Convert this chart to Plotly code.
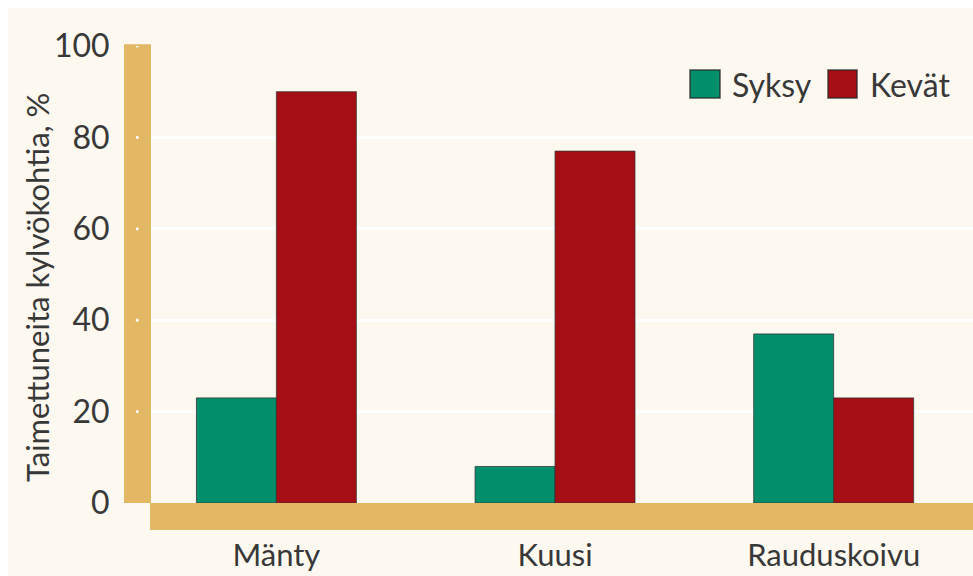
import plotly.graph_objects as go

# data
categories = ["Mänty", "Kuusi", "Rauduskoivu"]
series_names = ["Syksy", "Kevät"]
syksy = [23, 8, 37]
kevat = [90, 77, 23]
y_ticks = [0, 20, 40, 60, 80, 100]

GREEN = "#008e6b"
RED = "#a60e16"
TAN = "#e2b864"
BG = "#fdf8f0"
TEXT = "#383838"
FONT = "Lato, 'Open Sans', sans-serif"
OUTLINE = dict(color="rgba(50,50,50,0.75)", width=1)

fig = go.Figure()
fig.add_trace(go.Bar(x=categories, y=syksy, name=series_names[0], marker=dict(color=GREEN, line=OUTLINE)))
fig.add_trace(go.Bar(x=categories, y=kevat, name=series_names[1], marker=dict(color=RED, line=OUTLINE)))

shapes = [
    # thick tan axis bars
    dict(type="rect", xref="paper", yref="paper", x0=-0.0328, x1=0.0, y0=0.0, y1=1.004,
         fillcolor=TAN, line=dict(width=0), layer="above"),
    dict(type="rect", xref="paper", yref="paper", x0=-0.0012, x1=1.0, y0=-0.059, y1=0.0,
         fillcolor=TAN, line=dict(width=0), layer="above"),
    # legend swatches
    dict(type="rect", xref="paper", yref="paper", x0=0.6557, x1=0.6922, y0=0.8862, y1=0.9475,
         fillcolor=GREEN, line=dict(color="rgba(40,40,40,0.8)", width=1.5)),
    dict(type="rect", xref="paper", yref="paper", x0=0.8236, x1=0.8589, y0=0.8862, y1=0.9475,
         fillcolor=RED, line=dict(color="rgba(40,40,40,0.8)", width=1.5)),
]
# small white tick dots on the vertical bar
for t in y_ticks[1:]:
    shapes.append(dict(type="circle", xref="paper", yref="y", x0=-0.0185, x1=-0.0150,
                       y0=t - 0.35, y1=t + 0.35, fillcolor="white", line=dict(width=0), layer="above"))

annotations = [
    dict(text="Taimettuneita kylvökohtia, %", textangle=-90, xref="paper", yref="paper",
         x=-0.1387, y=0.4726, xanchor="center", yanchor="middle",
         showarrow=False, font=dict(size=31, color=TEXT, family=FONT)),
    dict(text=series_names[0], xref="paper", yref="paper", x=0.7044, y=0.9168,
         xanchor="left", yanchor="middle",
         showarrow=False, font=dict(size=32, color=TEXT, family=FONT)),
    dict(text=series_names[1], xref="paper", yref="paper", x=0.8723, y=0.9168,
         xanchor="left", yanchor="middle",
         showarrow=False, font=dict(size=32, color=TEXT, family=FONT)),
]

# figure sits 8px in from the top/left of the page, like the reference's white border
fig.update_layout(
    width=965, height=568,
    margin=dict(l=143, r=0, t=38, b=73),
    paper_bgcolor=BG, plot_bgcolor=BG,
    barmode="group", bargap=0.426, bargroupgap=0,
    showlegend=False,
    font=dict(family=FONT, color=TEXT),
    shapes=shapes, annotations=annotations,
)
fig.update_xaxes(range=[-0.45, 2.5], showgrid=False, showline=False, zeroline=False,
                 ticks="outside", ticklen=25, tickcolor="rgba(0,0,0,0)",
                 tickfont=dict(size=31, color=TEXT, family=FONT))
fig.update_yaxes(range=[0, 100], tickvals=y_ticks, showgrid=True, gridcolor="white", gridwidth=3,
                 showline=False, zeroline=False,
                 ticks="outside", ticklen=34, tickcolor="rgba(0,0,0,0)",
                 tickfont=dict(size=32, color=TEXT, family=FONT))

fig.write_html("out.html", post_script="document.body.style.margin='8px 0 0 8px';")
